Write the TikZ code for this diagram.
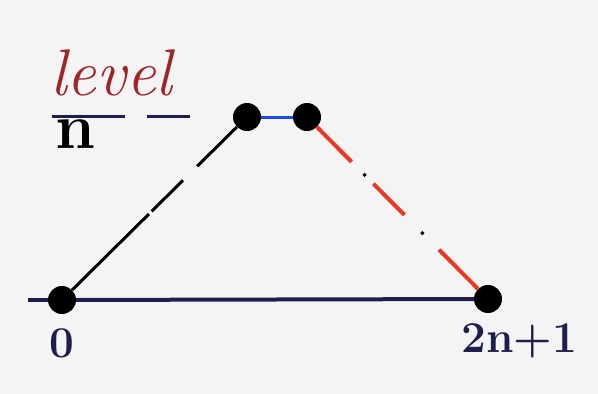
\documentclass[tikz,border=0pt]{standalone}
\usepackage{xcolor}
\usetikzlibrary{positioning}
\definecolor{paper}{RGB}{244,244,244}
\definecolor{ink}{RGB}{30,30,75}
\definecolor{levelred}{RGB}{160,35,40}
\definecolor{pathred}{RGB}{235,55,35}
\definecolor{pathblue}{RGB}{25,75,250}

\begin{document}
\begin{tikzpicture}[
  x=1pt, y=-1pt,
  dot/.style = {circle, fill=black, inner sep=0pt, minimum size=28pt},
  lbl/.style = {font=\fontsize{44}{44}\selectfont\bfseries, text=ink, inner sep=0pt},
  base/.style = {ink, line width=4pt},
  upstep/.style = {black, line width=3pt, dash pattern=on 108pt off 4pt on 44pt off 20pt on 60pt},
  downstep/.style = {pathred, line width=4pt, dash pattern=on 49pt off 31pt on 44pt off 49pt on 60pt},
  gapdots/.style = {black, line width=3pt, dash pattern=on 0pt off 66pt on 3pt off 79pt on 3pt off 100pt}
]
  \fill[paper] (0,0) rectangle (598,394);
  \useasboundingbox (0,0) rectangle (598,394);

  \node[dot] (zero) at (62,300) {};
  \node[dot] (top1) at (247,117) {};
  \node[dot] (top2) at (307,117) {};
  \node[dot] (last) at (488,299) {};
  \coordinate (stub) at (28,300);

  \draw[base] (stub) -- (zero);
  \draw[base] (zero) -- (last);
  \draw[upstep] (zero) -- (top1);
  \draw[pathblue, line width=3pt] (top1) -- (top2);
  \draw[downstep] (top2) -- (last);
  \draw[gapdots] (top2) -- (last);

  \node[lbl] (lzero) at (62,343) {0};
  \node[lbl] (llast) at (519,341) {2n+1};

  % level marker
  \node[anchor=base west, inner sep=0pt, text=levelred, font=\fontsize{66}{66}\selectfont\itshape] (lev) at (50,95) {level};
  \coordinate (lvlL) at (52,116);
  \coordinate (lvlR) at (190,116);
  \draw[ink, line width=3pt, dash pattern=on 73pt off 22pt on 45pt] (lvlL) -- (lvlR);
  \node[anchor=north, inner sep=0pt, text=black, font=\fontsize{64}{64}\selectfont\bfseries] (lvn) at (76,119) {n};
\end{tikzpicture}
\end{document}
